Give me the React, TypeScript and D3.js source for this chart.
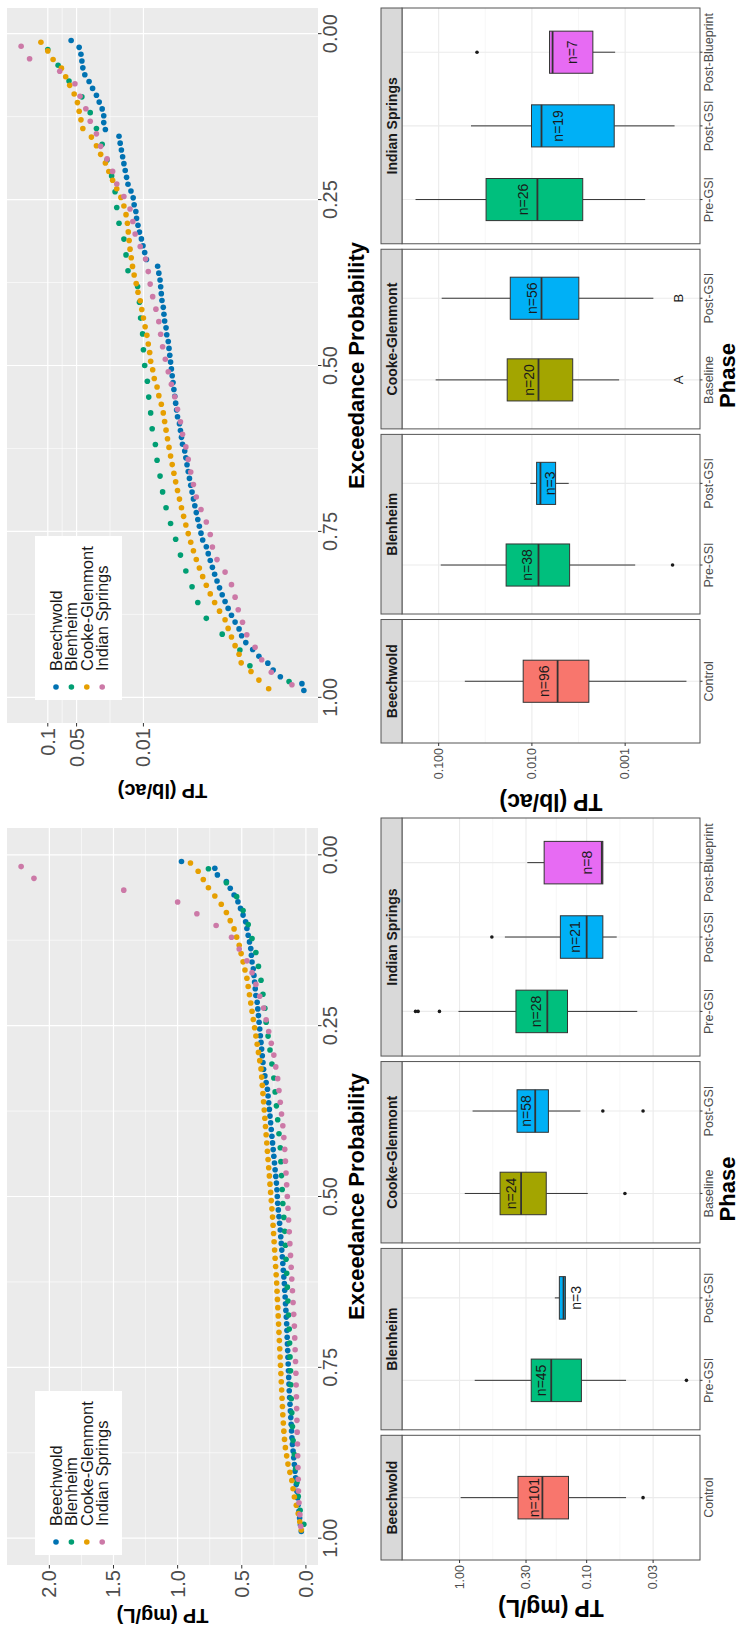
import React from 'react';
import * as d3 from 'd3';

// ---------------- DATA ----------------
const SITES = ['Beechwold', 'Blenheim', 'Cooke-Glenmont', 'Indian Springs'];
const SITE_COLORS = ['#0072B2', '#009E73', '#E69F00', '#CC79A7'];

// TP (mg/L), sorted high -> low (exceedance curves)
const MGL_BEECHWOLD = [0.97,0.71,0.69,0.62,0.59,0.56,0.53,0.51,0.49,0.47,
0.46,0.45,0.44,0.43,0.425,0.42,0.41,0.405,0.40,0.395,
0.39,0.38,0.375,0.37,0.365,0.36,0.355,0.35,0.345,0.34,
0.335,0.33,0.32,0.31,0.30,0.295,0.29,0.285,0.28,0.275,
0.27,0.265,0.26,0.255,0.25,0.245,0.24,0.235,0.23,0.226,
0.223,0.22,0.215,0.21,0.205,0.20,0.196,0.192,0.188,0.184,
0.18,0.176,0.172,0.168,0.165,0.162,0.159,0.156,0.153,0.15,
0.148,0.146,0.144,0.142,0.14,0.138,0.136,0.134,0.132,0.13,
0.127,0.124,0.121,0.118,0.115,0.112,0.109,0.105,0.10,0.095,
0.09,0.085,0.08,0.075,0.07,0.065,0.06,0.055,0.049,0.043,
0.036];
const MGL_BLENHEIM = [0.76,0.62,0.54,0.49,0.45,0.42,0.39,0.37,0.35,0.335,
0.32,0.31,0.295,0.28,0.265,0.25,0.24,0.23,0.22,0.21,
0.20,0.195,0.19,0.185,0.18,0.172,0.165,0.16,0.155,0.15,
0.145,0.14,0.135,0.13,0.127,0.124,0.12,0.117,0.114,0.11,
0.105,0.10,0.09,0.08,0.07,0.06,0.045,0.016];
const MGL_COOKE = [0.90,0.84,0.80,0.76,0.71,0.66,0.62,0.59,0.56,0.54,
0.52,0.505,0.49,0.475,0.46,0.45,0.44,0.43,0.42,0.41,
0.40,0.39,0.38,0.37,0.36,0.35,0.345,0.34,0.335,0.33,
0.325,0.32,0.315,0.31,0.305,0.30,0.295,0.29,0.285,0.28,
0.275,0.27,0.265,0.26,0.256,0.252,0.248,0.244,0.24,0.236,
0.232,0.228,0.225,0.222,0.219,0.216,0.213,0.21,0.207,0.204,
0.201,0.198,0.195,0.192,0.189,0.186,0.183,0.18,0.176,0.172,
0.167,0.16,0.15,0.14,0.125,0.11,0.10,0.09,0.075,0.06,
0.048,0.036];
const MGL_INDIAN = [2.22,2.12,1.42,1.00,0.85,0.70,0.58,0.52,0.46,0.42,
0.39,0.36,0.33,0.31,0.29,0.27,0.25,0.235,0.22,0.21,
0.20,0.19,0.18,0.172,0.165,0.16,0.155,0.15,0.145,0.14,
0.135,0.13,0.125,0.12,0.115,0.11,0.105,0.10,0.095,0.09,
0.087,0.084,0.081,0.078,0.076,0.074,0.072,0.07,0.068,0.066,
0.064,0.062,0.06,0.058,0.054,0.047,0.04];

// TP (lb/ac), sorted high -> low
const LBAC_BEECHWOLD = [0.057,0.047,0.045,0.044,0.043,0.041,0.037,0.034,0.031,0.029,
0.027,0.026,0.026,0.025,0.018,0.0175,0.017,0.0165,0.016,0.0155,
0.015,0.0145,0.0135,0.0128,0.0125,0.012,0.0118,0.0114,0.011,0.0105,
0.0101,0.0097,0.0093,0.0071,0.0069,0.0067,0.0066,0.0065,0.0064,0.0062,
0.0061,0.006,0.0058,0.0057,0.0055,0.0054,0.0053,0.0052,0.0051,0.005,
0.0049,0.0048,0.0047,0.0046,0.0045,0.0044,0.0042,0.0041,0.004,0.0039,
0.0037,0.0036,0.0035,0.0034,0.0033,0.0032,0.0031,0.003,0.0029,0.0028,
0.0027,0.0026,0.0025,0.0024,0.0022,0.0021,0.002,0.0019,0.0018,0.0017,
0.0016,0.0015,0.0014,0.0013,0.0012,0.0011,0.001,0.00094,0.00085,0.00072,
0.00062,0.0005,0.00044,0.00037,0.00022,0.00021];
const LBAC_BLENHEIM = [0.1,0.078,0.06,0.044,0.036,0.031,0.027,0.024,0.0215,0.0198,
0.019,0.018,0.016,0.0152,0.0145,0.0115,0.011,0.0107,0.0102,0.01,
0.0097,0.0091,0.0088,0.0084,0.0081,0.0075,0.0072,0.0067,0.0063,0.0058,
0.0052,0.0046,0.0041,0.0036,0.0031,0.0027,0.0022,0.0015,0.00098,0.00077,
0.0003];
const LBAC_COOKE = [0.118,0.1,0.088,0.072,0.065,0.059,0.053,0.049,0.047,0.045,
0.043,0.035,0.031,0.028,0.025,0.023,0.021,0.019,0.0172,0.016,
0.0152,0.0147,0.0144,0.0141,0.0138,0.0134,0.013,0.0125,0.0119,0.0114,
0.0108,0.0104,0.01,0.0096,0.0092,0.0089,0.0086,0.0084,0.008,0.0077,
0.0072,0.0069,0.0065,0.0062,0.006,0.0058,0.0056,0.0054,0.0052,0.005,
0.0048,0.0046,0.0044,0.0042,0.004,0.0038,0.0036,0.0034,0.0032,0.003,
0.0028,0.0026,0.0024,0.0022,0.002,0.0018,0.0016,0.0014,0.0013,0.0012,
0.0011,0.001,0.00095,0.00075,0.00062,0.00049];
const LBAC_INDIAN = [0.19,0.155,0.075,0.052,0.046,0.04,0.036,0.031,0.028,0.024,
0.021,0.019,0.016,0.0138,0.0129,0.0122,0.0108,0.0095,0.0089,0.0085,
0.008,0.0074,0.0069,0.0066,0.0063,0.0059,0.0055,0.0051,0.0047,0.0044,
0.0041,0.0039,0.0036,0.0034,0.0032,0.003,0.0028,0.0025,0.0022,0.002,
0.0019,0.0017,0.0014,0.0012,0.0011,0.00102,0.00092,0.00083,0.00068,0.00058,
0.00046,0.00028];

const EXC_TICKS = [1, 0.75, 0.5, 0.25, 0];
const EXC_LABELS = ['1.00', '0.75', '0.50', '0.25', '0.00'];
const MGL_SC_TICKS = [0, 0.5, 1, 1.5, 2];
const MGL_SC_LABELS = ['0.0', '0.5', '1.0', '1.5', '2.0'];
const LBAC_SC_TICKS = [0.01, 0.05, 0.1];
const LBAC_SC_LABELS = ['0.01', '0.05', '0.1'];
const MGL_BOX_TICKS = [0.03, 0.1, 0.3, 1];
const MGL_BOX_LABELS = ['0.03', '0.10', '0.30', '1.00'];
const LBAC_BOX_TICKS = [0.001, 0.01, 0.1];
const LBAC_BOX_LABELS = ['0.001', '0.010', '0.100'];

// Box plots: facets (sites) and phases
const PHASES = ['Control', 'Baseline', 'Pre-GSI', 'Post-GSI', 'Post-Blueprint'];
const PHASE_COLORS = ['#F8766D', '#A3A500', '#00BF7D', '#00B0F6', '#E76BF3'];
const FACET_PHASES = [['Control'], ['Pre-GSI', 'Post-GSI'], ['Baseline', 'Post-GSI'], ['Pre-GSI', 'Post-GSI', 'Post-Blueprint']];

const MGL_N = [[101], [45, 3], [24, 58], [28, 21, 8]];
const MGL_LOW = [[0.049], [0.049, 0.146], [0.098, 0.112], [0.040, 0.058, 0.0746]];
const MGL_Q1 = [[0.139], [0.110, 0.147], [0.208, 0.200], [0.1415, 0.0746, 0.0746]];
const MGL_MED = [[0.223], [0.190, 0.152], [0.328, 0.254], [0.204, 0.100, 0.076]];
const MGL_Q3 = [[0.347], [0.273, 0.164], [0.48, 0.353], [0.36, 0.161, 0.216]];
const MGL_HIGH = [[0.98], [0.76, 0.178], [0.91, 0.79], [1.02, 0.44, 0.293]];
const MGL_OUT = [[[0.036]], [[0.0164], []], [[0.05], [0.0746, 0.036]], [[2.22, 2.12, 1.44], [0.557], []]];
const MGL_LABEL_AT = [[0.259], [0.228, 0.122], [0.394, 0.30], [0.249, 0.124, 0.10]];

const LBAC_N = [[96], [38, 3], [20, 56], [26, 19, 7]];
const LBAC_LOW = [[0.00022], [0.00078, 0.00403], [0.00116, 0.000498], [0.00061, 0.000295, 0.00128]];
const LBAC_Q1 = [[0.00245], [0.00394, 0.00557], [0.00365, 0.00314], [0.00285, 0.00131, 0.00222]];
const LBAC_MED = [[0.0053], [0.0085, 0.0081], [0.0085, 0.00789], [0.00873, 0.00789, 0.0060]];
const LBAC_Q3 = [[0.0124], [0.0189, 0.0089], [0.0184, 0.01706], [0.031, 0.0101, 0.00647]];
const LBAC_HIGH = [[0.0524], [0.095, 0.0104], [0.1077, 0.0928], [0.177, 0.045, 0.00647]];
const LBAC_OUT = [[[]], [[0.00031], []], [[], []], [[], [], [0.0388]]];
const LBAC_LABEL_AT = [[0.00733], [0.0112, 0.00647], [0.01064, 0.0101], [0.01236, 0.0053, 0.00374]];
const LBAC_LETTERS = [[''], ['', ''], ['A', 'B'], ['', '', '']];
const LETTER_AT = 0.00027;

// ---------------- LAYOUT (original landscape figure, rotated onto the page) ----------------
const W = 1628;
const FONT = "'Liberation Sans', Arial, Helvetica, sans-serif";
const AXIS_TXT = '#4D4D4D';

function expand(lo: number, hi: number, f = 0.05) {
  const r = hi - lo;
  return [lo - r * f, hi + r * f];
}

function Scatter(props: any) {
  const { series, log, ticks, labels, panel, yTitle, yTitleX, legendX } = props;
  const maxN = d3.max(series, (s: number[]) => s.length) as number;
  const [p0, p1] = expand(1 / (maxN + 1), maxN / (maxN + 1));
  const x = d3.scaleLinear().domain([p1, p0]).range([panel.x0, panel.x1]);
  const all = series.flat();
  let y: any;
  let minor: number[];
  if (log) {
    const [a, b] = expand(Math.log10(d3.min(all) as number), Math.log10(d3.max(all) as number));
    y = d3.scaleLog().domain([10 ** a, 10 ** b]).range([panel.y1, panel.y0]);
    minor = [];
    for (let i = 0; i < ticks.length - 1; i++) minor.push(Math.sqrt(ticks[i] * ticks[i + 1]));
  } else {
    const [a, b] = expand(d3.min(all) as number, d3.max(all) as number);
    y = d3.scaleLinear().domain([a, b]).range([panel.y1, panel.y0]);
    minor = [];
    for (let i = 0; i < ticks.length - 1; i++) minor.push((ticks[i] + ticks[i + 1]) / 2);
  }
  const xMinor = [0.875, 0.625, 0.375, 0.125];
  const cx = (panel.x0 + panel.x1) / 2;
  const cy = (panel.y0 + panel.y1) / 2;
  const lx = legendX, ly = 35;
  return (
    <g>
      <rect x={panel.x0} y={panel.y0} width={panel.x1 - panel.x0} height={panel.y1 - panel.y0} fill="#EBEBEB" />
      {minor.map((t, i) => (
        <line key={'ym' + i} x1={panel.x0} x2={panel.x1} y1={y(t)} y2={y(t)} stroke="#fff" strokeWidth={0.6} />
      ))}
      {xMinor.map((t, i) => (
        <line key={'xm' + i} x1={x(t)} x2={x(t)} y1={panel.y0} y2={panel.y1} stroke="#fff" strokeWidth={0.6} />
      ))}
      {ticks.map((t: number, i: number) => (
        <line key={'yg' + i} x1={panel.x0} x2={panel.x1} y1={y(t)} y2={y(t)} stroke="#fff" strokeWidth={1.2} />
      ))}
      {EXC_TICKS.map((t, i) => (
        <line key={'xg' + i} x1={x(t)} x2={x(t)} y1={panel.y0} y2={panel.y1} stroke="#fff" strokeWidth={1.2} />
      ))}
      {series.map((s: number[], si: number) => (
        <g key={'s' + si}>
          {s.map((v, i) => (
            <circle key={i} cx={x((i + 1) / (s.length + 1))} cy={y(v)} r={2.8} fill={SITE_COLORS[si]} />
          ))}
        </g>
      ))}
      {/* legend */}
      <rect x={lx} y={ly} width={164} height={87} fill="#fff" />
      {SITES.map((s, i) => (
        <g key={'lg' + i}>
          <circle cx={lx + 13} cy={ly + 21 + i * 15.4} r={2.8} fill={SITE_COLORS[i]} />
          <text x={lx + 29} y={ly + 21 + i * 15.4} fontSize={16.5} fill="#1A1A1A" dominantBaseline="central" fontFamily={FONT}>{s}</text>
        </g>
      ))}
      {/* y axis */}
      {ticks.map((t: number, i: number) => (
        <g key={'yt' + i}>
          <line x1={panel.x0 - 3.5} x2={panel.x0} y1={y(t)} y2={y(t)} stroke="#333" strokeWidth={1} />
          <text x={panel.x0 - 5} y={y(t)} textAnchor="end" dominantBaseline="central" fontSize={20} fill={AXIS_TXT} fontFamily={FONT}>{labels[i]}</text>
        </g>
      ))}
      {/* x axis */}
      {EXC_TICKS.map((t, i) => (
        <g key={'xt' + i}>
          <line x1={x(t)} x2={x(t)} y1={panel.y1} y2={panel.y1 + 3.5} stroke="#333" strokeWidth={1} />
          <text x={x(t)} y={panel.y1 + 19} textAnchor="middle" fontSize={20} fill={AXIS_TXT} fontFamily={FONT}>{EXC_LABELS[i]}</text>
        </g>
      ))}
      <text x={cx} y={364} textAnchor="middle" fontSize={22} fontWeight="bold" fill="#000" fontFamily={FONT}>Exceedance Probability</text>
      <text transform={`translate(${yTitleX},${cy}) rotate(-90)`} textAnchor="middle" fontSize={20} fontWeight="bold" fill="#000" fontFamily={FONT}>{yTitle}</text>
    </g>
  );
}

function Boxes(props: any) {
  const { X0, X1, N, LOW, Q1, MED, Q3, HIGH, OUT, LABEL_AT, ticks, labels, yTitle, yTitleX, letters } = props;
  const PY0 = 402, PY1 = 700, SY0 = 381;
  const gap = 5.5;
  const units = FACET_PHASES.map((f) => f.length + 1.2);
  const unit = (X1 - X0 - gap * (FACET_PHASES.length - 1)) / d3.sum(units);
  let acc = X0;
  const facets = FACET_PHASES.map((f, i) => {
    const fx0 = acc;
    const fx1 = acc + units[i] * unit;
    acc = fx1 + gap;
    const xs = d3.scaleLinear().domain([0.4, f.length + 0.6]).range([fx0, fx1]);
    return { fx0, fx1, xs };
  });
  const vals: number[] = [];
  FACET_PHASES.forEach((f, i) => f.forEach((_p, j) => {
    vals.push(LOW[i][j], HIGH[i][j], ...OUT[i][j]);
  }));
  const [a, b] = expand(Math.log10(d3.min(vals) as number), Math.log10(d3.max(vals) as number));
  const y = d3.scaleLog().domain([10 ** a, 10 ** b]).range([PY1, PY0]);
  const minor: number[] = [];
  for (let i = 0; i < ticks.length - 1; i++) minor.push(Math.sqrt(ticks[i] * ticks[i + 1]));
  const bw = 0.75 * unit;
  return (
    <g>
      {facets.map((fc, i) => {
        const f = FACET_PHASES[i];
        return (
          <g key={'f' + i}>
            <rect x={fc.fx0} y={PY0} width={fc.fx1 - fc.fx0} height={PY1 - PY0} fill="#fff" />
            {minor.map((t, k) => (
              <line key={'mn' + k} x1={fc.fx0} x2={fc.fx1} y1={y(t)} y2={y(t)} stroke="#F2F2F2" strokeWidth={0.6} />
            ))}
            {ticks.map((t: number, k: number) => (
              <line key={'mj' + k} x1={fc.fx0} x2={fc.fx1} y1={y(t)} y2={y(t)} stroke="#EBEBEB" strokeWidth={1.1} />
            ))}
            {f.map((_p, j) => (
              <line key={'vg' + j} x1={fc.xs(j + 1)} x2={fc.xs(j + 1)} y1={PY0} y2={PY1} stroke="#EBEBEB" strokeWidth={1.1} />
            ))}
            {f.map((p, j) => {
              const cx = fc.xs(j + 1);
              const col = PHASE_COLORS[PHASES.indexOf(p)];
              return (
                <g key={'b' + j}>
                  <line x1={cx} x2={cx} y1={y(HIGH[i][j])} y2={y(Q3[i][j])} stroke="#333" strokeWidth={1} />
                  <line x1={cx} x2={cx} y1={y(Q1[i][j])} y2={y(LOW[i][j])} stroke="#333" strokeWidth={1} />
                  <rect x={cx - bw / 2} y={y(Q3[i][j])} width={bw} height={y(Q1[i][j]) - y(Q3[i][j])} fill={col} stroke="#333" strokeWidth={1} />
                  <line x1={cx - bw / 2} x2={cx + bw / 2} y1={y(MED[i][j])} y2={y(MED[i][j])} stroke="#333" strokeWidth={1.8} />
                  {OUT[i][j].map((o: number, k: number) => (
                    <circle key={k} cx={cx} cy={y(o)} r={1.8} fill="#1A1A1A" />
                  ))}
                  <text x={cx} y={y(LABEL_AT[i][j])} textAnchor="middle" dominantBaseline="central" fontSize={14} fill="#1A1A1A" fontFamily={FONT}>{'n=' + N[i][j]}</text>
                  {letters && letters[i][j] ? (
                    <text x={cx} y={y(LETTER_AT)} textAnchor="middle" dominantBaseline="central" fontSize={13} fill="#1A1A1A" fontFamily={FONT}>{letters[i][j]}</text>
                  ) : null}
                  <line x1={cx} x2={cx} y1={PY1} y2={PY1 + 2.5} stroke="#333" strokeWidth={1} />
                  <text x={cx} y={PY1 + 13} textAnchor="middle" fontSize={12.5} fill={AXIS_TXT} fontFamily={FONT}>{p}</text>
                </g>
              );
            })}
            <rect x={fc.fx0} y={PY0} width={fc.fx1 - fc.fx0} height={PY1 - PY0} fill="none" stroke="#555" strokeWidth={1} />
            <rect x={fc.fx0} y={SY0} width={fc.fx1 - fc.fx0} height={PY0 - SY0} fill="#D9D9D9" stroke="#555" strokeWidth={1} />
            <text x={(fc.fx0 + fc.fx1) / 2} y={(SY0 + PY0) / 2} textAnchor="middle" dominantBaseline="central" fontSize={14} fontWeight="bold" fill="#1A1A1A" fontFamily={FONT}>{SITES[i]}</text>
          </g>
        );
      })}
      {ticks.map((t: number, k: number) => (
        <g key={'yt' + k}>
          <line x1={X0 - 3} x2={X0} y1={y(t)} y2={y(t)} stroke="#333" strokeWidth={1} />
          <text x={X0 - 5} y={y(t)} textAnchor="end" dominantBaseline="central" fontSize={12.5} fill={AXIS_TXT} fontFamily={FONT}>{labels[k]}</text>
        </g>
      ))}
      <text x={(X0 + X1) / 2} y={735} textAnchor="middle" fontSize={22} fontWeight="bold" fill="#000" fontFamily={FONT}>Phase</text>
      <text transform={`translate(${yTitleX},${(PY0 + PY1) / 2}) rotate(-90)`} textAnchor="middle" fontSize={23} fontWeight="bold" fill="#000" fontFamily={FONT}>{yTitle}</text>
    </g>
  );
}

export default function App() {
  return (
    <svg width={739} height={1628} style={{ position: 'absolute', left: 0, top: 0, background: '#fff' }}>
      <rect x={0} y={0} width={739} height={1628} fill="#fff" />
      <g transform={`translate(0,${W}) rotate(-90)`}>
        <Scatter
          series={[MGL_BEECHWOLD, MGL_BLENHEIM, MGL_COOKE, MGL_INDIAN]}
          log={false}
          ticks={MGL_SC_TICKS}
          labels={MGL_SC_LABELS}
          panel={{ x0: 63, x1: 800, y0: 7, y1: 318 }}
          yTitle="TP (mg/L)"
          yTitleX={19}
          legendX={73}
        />
        <Scatter
          series={[LBAC_BEECHWOLD, LBAC_BLENHEIM, LBAC_COOKE, LBAC_INDIAN]}
          log={true}
          ticks={LBAC_SC_TICKS}
          labels={LBAC_SC_LABELS}
          panel={{ x0: 905, x1: 1620, y0: 7, y1: 318 }}
          yTitle="TP (lb/ac)"
          yTitleX={844}
          legendX={928}
        />
        <Boxes
          X0={68} X1={810}
          N={MGL_N} LOW={MGL_LOW} Q1={MGL_Q1} MED={MGL_MED} Q3={MGL_Q3} HIGH={MGL_HIGH} OUT={MGL_OUT}
          LABEL_AT={MGL_LABEL_AT}
          ticks={MGL_BOX_TICKS} labels={MGL_BOX_LABELS}
          yTitle="TP (mg/L)" yTitleX={28}
        />
        <Boxes
          X0={885} X1={1620}
          N={LBAC_N} LOW={LBAC_LOW} Q1={LBAC_Q1} MED={LBAC_MED} Q3={LBAC_Q3} HIGH={LBAC_HIGH} OUT={LBAC_OUT}
          LABEL_AT={LBAC_LABEL_AT}
          ticks={LBAC_BOX_TICKS} labels={LBAC_BOX_LABELS}
          yTitle="TP (lb/ac)" yTitleX={834}
          letters={LBAC_LETTERS}
        />
      </g>
    </svg>
  );
}
